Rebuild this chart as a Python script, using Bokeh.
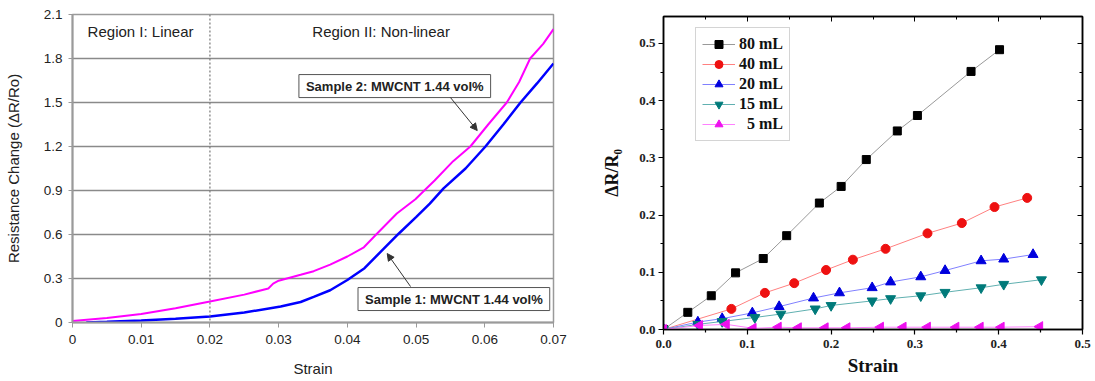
import math
from bokeh.plotting import figure
from bokeh.layouts import row, column
from bokeh.models import (Span, Label, Arrow, NormalHead, LinearAxis, FixedTicker, Title,
                          CustomJSTickFormatter, Legend, LegendItem, Range1d)
from bokeh.embed import file_html
from bokeh.resources import INLINE

# ---------------- Left panel data (strain vs resistance change) ----------------
s2_strain = [0.0, 0.005, 0.01, 0.015, 0.02, 0.025, 0.0285, 0.0292, 0.0300, 0.0332, 0.0351,
             0.0375, 0.0400, 0.0424, 0.0443, 0.0472, 0.0499, 0.0512, 0.0527, 0.0554, 0.0579,
             0.0605, 0.0632, 0.0650, 0.0666, 0.0685, 0.0700]
s2_dr = [0.01, 0.03, 0.058, 0.097, 0.143, 0.19, 0.232, 0.265, 0.285, 0.325, 0.35,
         0.395, 0.45, 0.513, 0.605, 0.743, 0.84, 0.9, 0.968, 1.1, 1.2,
         1.35, 1.5, 1.64, 1.8, 1.9, 2.0]

s1_strain = [0.002, 0.005, 0.01, 0.015, 0.02, 0.025, 0.0303, 0.0332, 0.0351, 0.0375, 0.04,
             0.0425, 0.0448, 0.0475, 0.05, 0.052, 0.054, 0.0572, 0.0601, 0.0627, 0.0652,
             0.0676, 0.07]
s1_dr = [0.0, 0.005, 0.014, 0.025, 0.041, 0.068, 0.109, 0.14, 0.175, 0.22, 0.29,
         0.37, 0.48, 0.607, 0.718, 0.81, 0.914, 1.05, 1.2, 1.35, 1.5,
         1.63, 1.766]

left_xticks = [0, 0.01, 0.02, 0.03, 0.04, 0.05, 0.06, 0.07]
left_yticks = [0, 0.3, 0.6, 0.9, 1.2, 1.5, 1.8, 2.1]

# ---------------- Right panel data ----------------
strain_80 = [0, 0.029, 0.057, 0.086, 0.119, 0.147, 0.186, 0.212, 0.242, 0.279, 0.303, 0.367, 0.401]
dr_80 = [0, 0.030, 0.059, 0.099, 0.124, 0.164, 0.221, 0.250, 0.297, 0.347, 0.374, 0.451, 0.489]
strain_40 = [0, 0.081, 0.121, 0.156, 0.194, 0.226, 0.265, 0.315, 0.356, 0.395, 0.434]
dr_40 = [0, 0.036, 0.064, 0.081, 0.104, 0.122, 0.141, 0.168, 0.186, 0.214, 0.230]
strain_20 = [0, 0.041, 0.070, 0.106, 0.138, 0.179, 0.210, 0.249, 0.271, 0.307, 0.336, 0.379, 0.406, 0.441]
dr_20 = [0, 0.013, 0.019, 0.029, 0.040, 0.055, 0.064, 0.073, 0.083, 0.092, 0.103, 0.120, 0.123, 0.131]
strain_15 = [0, 0.041, 0.070, 0.109, 0.140, 0.181, 0.200, 0.249, 0.271, 0.307, 0.336, 0.379, 0.406, 0.451]
dr_15 = [0, 0.009, 0.014, 0.021, 0.027, 0.036, 0.042, 0.050, 0.054, 0.059, 0.065, 0.073, 0.079, 0.087]
strain_5 = [0, 0.043, 0.075, 0.107, 0.137, 0.161, 0.193, 0.219, 0.259, 0.286, 0.315, 0.349, 0.378, 0.403, 0.449]
dr_5 = [0, 0.007, 0.009, 0.002, 0.004, 0.003, 0.003, 0.003, 0.004, 0.004, 0.004, 0.004, 0.004, 0.004, 0.005]

right_labels = ["80 mL", "40 mL", "20 mL", "15 mL", "\u20075 mL"]
right_ticks = [0, 0.1, 0.2, 0.3, 0.4, 0.5]
right_minor = [0.05, 0.15, 0.25, 0.35, 0.45]

# ======================= LEFT FIGURE =======================
SANS = "Liberation Sans"
p1 = figure(width=580, height=381, x_range=Range1d(0, 0.07), y_range=Range1d(0, 2.1),
            output_backend="svg", toolbar_location=None,
            min_border_left=72, min_border_right=27, min_border_top=14, min_border_bottom=59)
p1.background_fill_color = "white"
p1.border_fill_color = "white"
p1.outline_line_color = "#9a9a9a"
p1.outline_line_width = 1.5

p1.xgrid.visible = False
p1.ygrid.ticker = FixedTicker(ticks=left_yticks)
p1.ygrid.grid_line_color = "#8a8a8a"
p1.ygrid.grid_line_width = 1.4

for ax in (p1.xaxis[0], p1.yaxis[0]):
    ax.axis_line_color = "#9a9a9a"
    ax.axis_line_width = 2
    ax.major_tick_line_color = "#9a9a9a"
    ax.minor_tick_line_color = None
    ax.major_tick_in = 0
    ax.major_label_text_font = SANS
    ax.major_label_text_font_size = "13.5px"
    ax.major_label_text_color = "#222222"
    ax.axis_label_text_font = SANS
    ax.axis_label_text_font_size = "15px"
    ax.axis_label_text_font_style = "normal"
    ax.axis_label_text_color = "#222222"

p1.xaxis.ticker = FixedTicker(ticks=left_xticks)
p1.xaxis.formatter = CustomJSTickFormatter(code="return Math.abs(tick) < 1e-9 ? '0' : tick.toFixed(2);")
p1.xaxis.major_tick_out = 5
p1.xaxis.major_label_standoff = 7
p1.xaxis.axis_label = "Strain"
p1.xaxis.axis_label_standoff = 13

p1.yaxis.ticker = FixedTicker(ticks=left_yticks)
p1.yaxis.formatter = CustomJSTickFormatter(code="return Math.abs(tick) < 1e-9 ? '0' : tick.toFixed(1);")
p1.yaxis.major_tick_out = 4
p1.yaxis.major_label_standoff = 6
p1.yaxis.axis_label = "Resistance Change (\u0394R/Ro)"
p1.yaxis.axis_label_standoff = 19

p1.add_layout(Span(location=0.02, dimension="height", line_color="#777777",
                   line_width=1.2, line_dash="2 2"))

p1.line(s2_strain, s2_dr, line_color="#ff00ff", line_width=2)
p1.line(s1_strain, s1_dr, line_color="#0000ff", line_width=2.5)

p1.add_layout(Label(x=0.0022, y=1.984, text="Region I: Linear", text_font=SANS,
                    text_font_size="15px", text_color="#222222", text_baseline="middle"))
p1.add_layout(Label(x=0.0349, y=1.984, text="Region II: Non-linear", text_font=SANS,
                    text_font_size="15px", text_color="#222222", text_baseline="middle"))

p1.add_layout(Label(x=0.0469, y=1.612, text="Sample 2: MWCNT 1.44 vol%", text_font=SANS,
                    text_font_size="13px", text_font_style="bold", text_color="#222222",
                    text_align="center", text_baseline="middle",
                    background_fill_color="white", border_line_color="#555555",
                    border_line_width=1, padding=(7, 4)))
p1.add_layout(Label(x=0.0555, y=0.160, text="Sample 1: MWCNT 1.44 vol%", text_font=SANS,
                    text_font_size="13px", text_font_style="bold", text_color="#222222",
                    text_align="center", text_baseline="middle",
                    background_fill_color="white", border_line_color="#555555",
                    border_line_width=1, padding=(7, 4)))

p1.add_layout(Arrow(x_start=0.0550, y_start=1.534, x_end=0.0589, y_end=1.309,
                    line_color="#333333", line_width=1,
                    end=NormalHead(size=7, fill_color="#333333", line_color="#333333")))
p1.add_layout(Arrow(x_start=0.0492, y_start=0.245, x_end=0.0458, y_end=0.470,
                    line_color="#333333", line_width=1,
                    end=NormalHead(size=7, fill_color="#333333", line_color="#333333")))

# ======================= RIGHT FIGURE =======================
SERIF = "Liberation Serif"
p2 = figure(width=515, height=381, x_range=Range1d(0, 0.5), y_range=Range1d(0, 0.547),
            output_backend="svg", toolbar_location=None,
            min_border_left=83, min_border_right=13, min_border_top=16, min_border_bottom=52)
p2.background_fill_color = "white"
p2.border_fill_color = "white"
p2.outline_line_color = "black"
p2.outline_line_width = 1.5
p2.xgrid.visible = False
p2.ygrid.visible = False

xt = FixedTicker(ticks=right_ticks, minor_ticks=right_minor)
yt = FixedTicker(ticks=right_ticks, minor_ticks=right_minor)
fmt = CustomJSTickFormatter(code="return tick.toFixed(1);")

for ax in (p2.xaxis[0], p2.yaxis[0]):
    ax.axis_line_color = "black"
    ax.axis_line_width = 1.5
    ax.major_tick_line_color = "black"
    ax.minor_tick_line_color = "black"
    ax.major_tick_line_width = 1.2
    ax.minor_tick_line_width = 1.2
    ax.major_tick_in = 0
    ax.major_tick_out = 5
    ax.minor_tick_in = 0
    ax.minor_tick_out = 3
    ax.formatter = fmt
    ax.major_label_text_font = SERIF
    ax.major_label_text_font_size = "13px"
    ax.major_label_text_font_style = "bold"
    ax.major_label_text_color = "#222222"
    ax.axis_label_text_font = SERIF
    ax.axis_label_text_font_size = "18px"
    ax.axis_label_text_font_style = "bold"
    ax.axis_label_text_color = "#111111"

p2.xaxis.ticker = xt
p2.xaxis.major_label_standoff = 5
p2.yaxis.ticker = yt
p2.yaxis.major_label_standoff = 3
p2.yaxis.axis_label = "\u0394R/R\u2080"
p2.yaxis.axis_label_standoff = 14

# x-axis title in the panel below the axis
p2.add_layout(Title(text="Strain", align="center", text_font=SERIF, text_font_size="19px",
                    text_font_style="bold", text_color="#111111", standoff=4, offset=0),
              "below")

for side, tk in (("above", xt), ("right", yt)):
    ax = LinearAxis(ticker=tk, formatter=fmt)
    ax.axis_line_color = "black"
    ax.axis_line_width = 1.5
    ax.major_tick_line_color = "black"
    ax.minor_tick_line_color = "black"
    ax.major_tick_in = 5
    ax.major_tick_out = 0
    ax.minor_tick_in = 3
    ax.minor_tick_out = 0
    ax.major_label_text_font_size = "1px"
    ax.major_label_text_color = None
    ax.major_label_standoff = 0
    p2.add_layout(ax, side)

series = [
    (strain_80, dr_80, "square", "#000000", "#999999", 8, 0.0),
    (strain_40, dr_40, "circle", "#ee1111", "#ff8080", 9, 0.0),
    (strain_20, dr_20, "triangle", "#0000dd", "#8080ff", 10, 0.0),
    (strain_15, dr_15, "inverted_triangle", "#007a7a", "#60b0b0", 10, 0.0),
    (strain_5, dr_5, "triangle", "#ee11ee", "#ff80ff", 10, math.pi / 2),
]
items = []
for (xs, ys, mk, col, lcol, sz, ang), lab in zip(series, right_labels):
    ln = p2.line(xs, ys, line_color=lcol, line_width=1)
    sc = p2.scatter(xs, ys, marker=mk, size=sz, fill_color=col, line_color=col, angle=ang)
    items.append(LegendItem(label=lab, renderers=[ln, sc]))

legend = Legend(items=items, location=(32, 188), margin=0, padding=6, spacing=0,
                label_height=20, glyph_height=20, glyph_width=33, label_standoff=4,
                label_text_font=SERIF, label_text_font_size="16px",
                label_text_font_style="bold", label_text_color="#111111",
                border_line_color="#aaaaaa", border_line_width=1,
                background_fill_color="white")
p2.add_layout(legend)

layout = row(column(p1), column(p2))
open("out.html", "w").write(file_html(layout, INLINE))
